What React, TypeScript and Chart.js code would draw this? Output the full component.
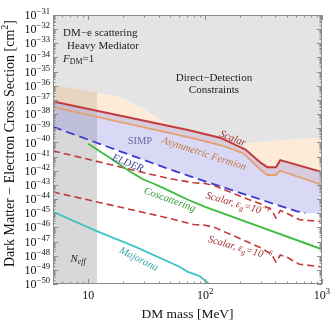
import React, { useEffect, useRef } from 'react';
import { Chart, registerables } from 'chart.js';
Chart.register(...registerables);

const FF = '"Liberation Serif", "Times New Roman", serif';

// DM mass [MeV] and log10(cross section [cm^2])
const scalarMass = [5, 71.4, 137, 224, 300, 340, 404, 440, 1000];
const scalarLogSigma = [-37.1, -39.12, -39.69, -40.53, -41.45, -41.75, -41.75, -41.25, -42.1];

const asymMass = [5, 71.4, 137, 211, 300, 340, 404, 440, 1000];
const asymLogSigma = [-37.5, -39.62, -40.2, -40.75, -41.95, -42.3, -42.3, -42.0, -43.0];

const elderMass = [5, 46, 100, 600, 720];
const elderLogSigma = [-38.9, -41.8, -42.75, -44.85, -45.0];
const simpFloorMass = [1000];
const simpFloorLogSigma = [-45.0];

const scalarE1Mass = [5, 46, 80, 100, 120, 200, 300, 370, 404, 440, 500, 640, 1000];
const scalarE1LogSigma = [-40.6, -42.5, -42.85, -42.9, -43.05, -43.8, -44.35, -44.75, -45.35, -44.8, -45.0, -45.45, -45.6];

const scalarE6Mass = [5, 46, 80, 100, 120, 200, 300, 370, 404, 440, 500, 640, 1000];
const scalarE6LogSigma = [-43.5, -45.3, -45.8, -45.85, -46.0, -46.8, -47.45, -47.9, -48.45, -47.95, -48.1, -48.6, -48.8];

const coscatMass = [10, 15.4, 22.8, 29.4, 36, 46, 71.4, 100, 1000];
const coscatLogSigma = [-40.1, -41.1, -42.05, -42.6, -42.9, -43.3, -44.05, -44.55, -47.55];

const majoranaMass = [5, 11.7, 25.7, 61, 71.4, 90, 105, 115];
const majoranaLogSigma = [-44.9, -46.25, -47.4, -48.8, -49.15, -49.45, -49.9, -50.2];

const ddMass = [5, 11.7, 18.7, 31.2, 41.1, 61, 71.4, 137, 200, 215, 222, 300, 1000];
const ddLogSigma = [-35.94, -36.45, -36.79, -37.71, -38.42, -38.99, -39.12, -39.69, -40.34, -40.46, -40.1, -39.95, -39.65];

const neffMaxMass = 11.9;

const xMin = 5;
const xMax = 1000;
const yMinExp = -50;
const yMaxExp = -31;
const xMajorTicks = [10, 100, 1000];
const xTickLabels: [string, string][] = [['10', ''], ['10', '2'], ['10', '3']];

type Seg = { t: string; v?: 'sup' | 'sub'; i?: boolean };

function drawRich(
  ctx: CanvasRenderingContext2D,
  segs: Seg[],
  x: number,
  y: number,
  size: number,
  color: string,
  align: 'left' | 'center' | 'right',
  angleDeg: number,
  italicDefault = false
) {
  const font = (s: Seg) => {
    const sz = s.v ? size * 0.72 : size;
    const it = s.i !== undefined ? s.i : italicDefault;
    return `${it ? 'italic ' : ''}${sz}px ${FF}`;
  };
  let total = 0;
  const widths = segs.map((s) => {
    ctx.font = font(s);
    const w = ctx.measureText(s.t).width;
    total += w;
    return w;
  });
  ctx.save();
  ctx.translate(x, y);
  ctx.rotate((angleDeg * Math.PI) / 180);
  ctx.fillStyle = color;
  ctx.textBaseline = 'alphabetic';
  ctx.textAlign = 'left';
  let cx = align === 'left' ? 0 : align === 'center' ? -total / 2 : -total;
  const base = size * 0.34;
  segs.forEach((s, k) => {
    ctx.font = font(s);
    let dy = base;
    if (s.v === 'sup') dy = base - size * 0.42;
    if (s.v === 'sub') dy = base + size * 0.22;
    ctx.fillText(s.t, cx, dy);
    cx += widths[k];
  });
  ctx.restore();
}

const pts = (mass: number[], logs: number[]) => mass.map((m, i) => ({ x: m, y: Math.pow(10, logs[i]) }));

const regionsPlugin = {
  id: 'regions',
  beforeDatasetsDraw(chart: any) {
    const { ctx, chartArea: a, scales } = chart;
    const X = (m: number) => scales.x.getPixelForValue(m);
    const Y = (l: number) => scales.y.getPixelForValue(Math.pow(10, l));
    const poly = (p: [number, number][], color: string) => {
      ctx.beginPath();
      p.forEach(([px, py], k) => (k ? ctx.lineTo(px, py) : ctx.moveTo(px, py)));
      ctx.closePath();
      ctx.fillStyle = color;
      ctx.fill();
    };
    ctx.save();
    ctx.beginPath();
    ctx.rect(a.left, a.top, a.right - a.left, a.bottom - a.top);
    ctx.clip();
    // N_eff band
    poly(
      [
        [a.left - 5, a.bottom + 5],
        [X(neffMaxMass), a.bottom + 5],
        [X(neffMaxMass), a.top - 5],
        [a.left - 5, a.top - 5],
      ],
      '#d8d8d8'
    );
    // Direct detection
    const B: [number, number][] = ddMass.map((m, i) => [X(m), Y(ddLogSigma[i])]);
    poly([...B, [a.right + 5, a.top - 5], [a.left - 5, a.top - 5]], '#e4e4e4');
    // Asymmetric fermion (peach)
    const asym: [number, number][] = asymMass.map((m, i) => [X(m), Y(asymLogSigma[i])]);
    poly([...B, ...asym.slice().reverse()], 'rgba(250,210,168,0.45)');
    // SIMP (lavender)
    const top: [number, number][] = scalarMass.map((m, i) => [X(m), Y(scalarLogSigma[i])]);
    const floor: [number, number][] = simpFloorMass.map((m, i) => [X(m), Y(simpFloorLogSigma[i])]);
    const elder: [number, number][] = elderMass.map((m, i) => [X(m), Y(elderLogSigma[i])]);
    poly([...top, ...floor, ...elder.slice().reverse()], 'rgba(140,140,228,0.33)');
    ctx.restore();
  },
  afterDraw(chart: any) {
    const { ctx, chartArea: a, scales } = chart;
    const X = (m: number) => scales.x.getPixelForValue(m);
    const Y = (l: number) => scales.y.getPixelForValue(Math.pow(10, l));
    ctx.save();
    // labels in plot
    const dark = '#222';
    drawRich(ctx, [{ t: 'DM−e scattering' }], X(6.1), Y(-32.2), 11, dark, 'left', 0);
    drawRich(ctx, [{ t: 'Heavy Mediator' }], X(6.6), Y(-33.12), 11, dark, 'left', 0);
    drawRich(ctx, [{ t: 'F', i: true }, { t: 'DM', v: 'sub' }, { t: '=1' }], X(6.1), Y(-34.04), 11, dark, 'left', 0);
    drawRich(ctx, [{ t: 'Direct−Detection' }], X(119), Y(-35.38), 11, dark, 'center', 0);
    drawRich(ctx, [{ t: 'Constraints' }], X(119), Y(-36.23), 11, dark, 'center', 0);
    drawRich(ctx, [{ t: 'SIMP' }], X(27.7), Y(-39.83), 10.5, '#6a6aa8', 'center', 0);
    drawRich(ctx, [{ t: 'Scalar' }], X(173), Y(-39.68), 10.5, '#a83232', 'center', 22, true);
    drawRich(ctx, [{ t: 'Asymmetric Fermion' }], X(98), Y(-40.75), 10.5, '#c27a42', 'center', 18, true);
    drawRich(ctx, [{ t: 'ELDER' }], X(21.9), Y(-41.42), 10.5, '#3a3a9a', 'center', 22, true);
    drawRich(ctx, [{ t: 'Coscattering' }], X(50), Y(-44.0), 10.5, '#2e9a2e', 'center', 20, true);
    drawRich(
      ctx,
      [{ t: 'Scalar, ε' }, { t: 'g', v: 'sub' }, { t: '=10' }, { t: '−1', v: 'sup' }],
      X(191), Y(-44.32), 10.5, '#a83232', 'center', 16, true
    );
    drawRich(
      ctx,
      [{ t: 'Scalar, ε' }, { t: 'g', v: 'sub' }, { t: '=10' }, { t: '−6', v: 'sup' }],
      X(199), Y(-47.42), 10.5, '#a83232', 'center', 16, true
    );
    drawRich(ctx, [{ t: 'Majorana' }], X(27.2), Y(-48.2), 10.5, '#2fa5a5', 'center', 27, true);
    drawRich(ctx, [{ t: 'N', i: true }, { t: 'eff', v: 'sub', i: true }], X(8.2), Y(-48.16), 11, dark, 'center', 0);

    // frame
    ctx.strokeStyle = '#8c8c8c';
    ctx.lineWidth = 1;
    ctx.strokeRect(a.left + 0.5, a.top + 0.5, a.right - a.left - 1, a.bottom - a.top - 1);
    // y ticks
    ctx.beginPath();
    for (let e = yMinExp; e <= yMaxExp; e++) {
      const py = Math.round(Y(e)) + 0.5;
      ctx.moveTo(a.left, py); ctx.lineTo(a.left + 5, py);
      ctx.moveTo(a.right, py); ctx.lineTo(a.right - 5, py);
      if (e < yMaxExp) {
        for (let k = 2; k <= 9; k++) {
          const q = Math.round(Y(e + Math.log10(k))) + 0.5;
          ctx.moveTo(a.left, q); ctx.lineTo(a.left + 2.5, q);
          ctx.moveTo(a.right, q); ctx.lineTo(a.right - 2.5, q);
        }
      }
    }
    // x ticks
    const xt: [number, number][] = [];
    for (let d = 1; d <= 100; d *= 10) {
      for (let k = 1; k <= 9; k++) {
        const v = k * d;
        if (v >= xMin && v <= xMax && !(k === 1 && d === 1)) xt.push([v, 2.5]);
      }
    }
    xMajorTicks.forEach((v) => xt.push([v, 5]));
    xt.forEach(([v, len]) => {
      const px = Math.round(X(v)) + 0.5;
      ctx.moveTo(px, a.bottom); ctx.lineTo(px, a.bottom - len);
      ctx.moveTo(px, a.top); ctx.lineTo(px, a.top + len);
    });
    ctx.stroke();

    // y tick labels
    for (let e = yMinExp; e <= yMaxExp; e++) {
      drawRich(ctx, [{ t: '10' }, { t: `−${-e}`, v: 'sup' }], a.left - 3, Y(e), 12, '#111', 'right', 0);
    }
    // x tick labels
    xMajorTicks.forEach((v, i) => {
      const [b, ex] = xTickLabels[i];
      const segs: Seg[] = ex ? [{ t: b }, { t: ex, v: 'sup' }] : [{ t: b }];
      drawRich(ctx, segs, X(v), a.bottom + 11, 12, '#111', 'center', 0);
    });
    // axis titles
    drawRich(ctx, [{ t: 'DM mass [MeV]' }], (a.left + a.right) / 2, a.bottom + 29, 13.5, '#111', 'center', 0);
    drawRich(
      ctx,
      [{ t: 'Dark Matter − Electron Cross Section [cm' }, { t: '2', v: 'sup' }, { t: ']' }],
      9, (a.top + a.bottom) / 2 - 6, 14, '#111', 'center', -90
    );
    ctx.restore();
  },
};

export default function App() {
  const ref = useRef<HTMLCanvasElement>(null);
  useEffect(() => {
    const line = (mass: number[], logs: number[], color: string, width: number, dash: number[] = []) => ({
      data: pts(mass, logs),
      borderColor: color,
      borderWidth: width,
      borderDash: dash,
      pointRadius: 0,
      fill: false,
      tension: 0,
      borderJoinStyle: 'round' as const,
    });
    const chart = new Chart(ref.current!, {
      type: 'line',
      data: {
        datasets: [
          line(majoranaMass, majoranaLogSigma, '#3cc4c4', 1.8),
          line(coscatMass, coscatLogSigma, '#3dbb3d', 1.8),
          line(scalarE6Mass, scalarE6LogSigma, '#c23b3b', 1.6, [7, 4]),
          line(scalarE1Mass, scalarE1LogSigma, '#c23b3b', 1.6, [7, 4]),
          line(elderMass, elderLogSigma, '#3b3bd0', 1.8, [9, 5]),
          line(asymMass, asymLogSigma, '#e3a070', 1.8),
          line(scalarMass, scalarLogSigma, '#c23b3b', 2),
        ] as any,
      },
      options: {
        animation: false,
        responsive: false,
        maintainAspectRatio: false,
        events: [],
        layout: { padding: { left: 53, right: 10, top: 15, bottom: 38 } },
        plugins: { legend: { display: false }, tooltip: { enabled: false } },
        scales: {
          x: { type: 'logarithmic', min: xMin, max: xMax, display: false },
          y: { type: 'logarithmic', min: Math.pow(10, yMinExp), max: Math.pow(10, yMaxExp), display: false },
        },
      },
      plugins: [regionsPlugin],
    });
    return () => chart.destroy();
  }, []);
  return (
    <div style={{ position: 'absolute', left: 0, top: 0, width: 332, height: 322, background: '#fff' }}>
      <canvas ref={ref} width={332} height={322} style={{ display: 'block', width: 332, height: 322 }} />
    </div>
  );
}
